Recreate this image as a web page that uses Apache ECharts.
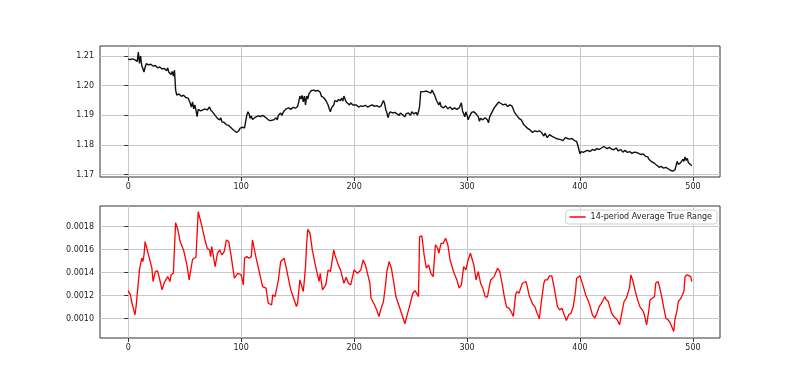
<!DOCTYPE html>
<html><head><meta charset="utf-8">
<script src="https://cdn.jsdelivr.net/npm/echarts@6/dist/echarts.min.js"></script>
<style>html,body{margin:0;padding:0;background:#fff}#c{width:800px;height:380px}</style>
</head><body><div id="c"></div>
<script>
const priceIdx = [0,2,4,6,7,8,9,10,11,12,13,14,15,16,18,20,22,24,26,28,30,32,34,35,36,38,39,40,41,42,43,45,47,49,51,53,54,55,56,57,58,59,60,61,62,64,66,68,70,72,73,75,77,78,79,81,82,83,85,86,87,89,90,92,93,94,96,97,98,99,101,103,104,105,106,107,108,109,110,112,113,115,117,119,121,122,124,126,127,129,130,131,132,133,134,135,136,138,140,142,144,146,148,150,151,152,153,154,155,156,157,158,159,160,162,164,166,168,170,171,173,175,176,177,178,179,180,181,182,183,185,186,188,189,190,191,192,193,194,196,197,199,200,202,204,206,208,210,212,214,216,218,220,222,224,226,227,228,229,230,231,232,234,236,238,240,241,243,245,246,248,250,251,253,255,256,257,258,259,260,262,264,266,268,269,270,271,272,273,274,275,276,277,279,281,283,285,287,289,291,293,295,296,297,298,299,300,301,302,304,306,308,310,311,312,314,316,318,319,320,322,324,326,328,330,332,334,336,338,340,341,342,344,346,348,350,352,354,356,358,360,362,364,366,368,369,371,373,375,377,379,381,383,385,387,389,391,393,395,397,398,399,400,401,403,405,407,409,411,413,415,417,419,421,422,424,426,428,430,432,434,436,438,440,442,444,446,448,450,452,454,456,458,460,461,462,463,464,466,468,470,472,474,476,478,480,482,484,485,486,487,489,490,491,492,493,494,495,496,497,499];
const priceVal = [1.2089,1.2088,1.2090,1.2087,1.2092,1.2082,1.2113,1.2075,1.2100,1.2068,1.2058,1.2046,1.2062,1.2074,1.2070,1.2072,1.2066,1.2068,1.2060,1.2063,1.2056,1.2058,1.2050,1.2060,1.2045,1.2038,1.2048,1.2032,1.2052,1.1985,1.1968,1.1972,1.1964,1.1968,1.1960,1.1958,1.1950,1.1940,1.1928,1.1945,1.1922,1.1935,1.1918,1.1896,1.1920,1.1915,1.1918,1.1922,1.1918,1.1928,1.1918,1.1910,1.1900,1.1905,1.1890,1.1885,1.1892,1.1878,1.1876,1.1880,1.1868,1.1866,1.1860,1.1855,1.1860,1.1848,1.1842,1.1838,1.1848,1.1856,1.1860,1.1858,1.1880,1.1900,1.1912,1.1905,1.1890,1.1898,1.1886,1.1892,1.1888,1.1898,1.1896,1.1900,1.1895,1.1890,1.1885,1.1882,1.1878,1.1885,1.1880,1.1892,1.1885,1.1900,1.1895,1.1908,1.1900,1.1915,1.1922,1.1925,1.1920,1.1927,1.1924,1.1930,1.1945,1.1965,1.1955,1.1967,1.1945,1.1965,1.1935,1.1965,1.1955,1.1972,1.1983,1.1985,1.1982,1.1984,1.1978,1.1965,1.1960,1.1950,1.1955,1.1935,1.1922,1.1912,1.1925,1.1920,1.1935,1.1950,1.1946,1.1953,1.1950,1.1958,1.1948,1.1965,1.1955,1.1945,1.1940,1.1935,1.1942,1.1935,1.1930,1.1935,1.1928,1.1932,1.1930,1.1934,1.1928,1.1932,1.1935,1.1930,1.1933,1.1928,1.1932,1.1950,1.1940,1.1920,1.1910,1.1892,1.1905,1.1912,1.1908,1.1910,1.1905,1.1900,1.1908,1.1902,1.1895,1.1905,1.1908,1.1900,1.1912,1.1905,1.1910,1.1900,1.1912,1.1930,1.1980,1.1985,1.1980,1.1982,1.1978,1.1975,1.1985,1.1990,1.1970,1.1960,1.1950,1.1945,1.1935,1.1945,1.1930,1.1925,1.1932,1.1922,1.1928,1.1920,1.1925,1.1920,1.1925,1.1942,1.1915,1.1905,1.1895,1.1912,1.1900,1.1885,1.1895,1.1910,1.1912,1.1905,1.1895,1.1880,1.1890,1.1885,1.1892,1.1885,1.1875,1.1895,1.1910,1.1925,1.1935,1.1945,1.1940,1.1935,1.1938,1.1930,1.1935,1.1930,1.1925,1.1910,1.1900,1.1890,1.1885,1.1870,1.1862,1.1855,1.1850,1.1842,1.1848,1.1845,1.1848,1.1842,1.1830,1.1840,1.1825,1.1835,1.1830,1.1826,1.1822,1.1820,1.1818,1.1815,1.1825,1.1822,1.1820,1.1822,1.1815,1.1812,1.1800,1.1785,1.1770,1.1778,1.1775,1.1780,1.1782,1.1778,1.1785,1.1782,1.1788,1.1785,1.1790,1.1795,1.1790,1.1788,1.1792,1.1786,1.1784,1.1790,1.1780,1.1785,1.1776,1.1782,1.1775,1.1778,1.1772,1.1776,1.1775,1.1772,1.1768,1.1770,1.1762,1.1760,1.1752,1.1758,1.1745,1.1750,1.1738,1.1732,1.1725,1.1728,1.1722,1.1725,1.1720,1.1715,1.1712,1.1716,1.1730,1.1745,1.1735,1.1740,1.1738,1.1752,1.1745,1.1760,1.1748,1.1755,1.1740,1.1735,1.1730];

const atrIdx = [0,2,3,6,7,10,12,13,14,15,18,21,22,24,26,28,30,32,35,37,38,40,42,44,46,49,52,54,55,57,60,61,62,65,68,70,72,73,74,77,79,81,83,85,87,89,91,94,97,100,102,103,105,107,109,110,113,116,119,122,124,125,127,128,130,131,133,135,136,138,140,143,144,146,149,150,152,153,155,156,157,158,159,161,163,166,169,170,172,175,177,179,180,182,183,186,188,191,193,195,197,200,203,206,208,210,214,215,218,220,222,224,226,228,229,231,233,235,237,240,242,245,247,249,252,254,255,257,258,260,262,264,266,268,270,272,274,275,277,279,281,283,285,288,291,293,295,297,299,301,303,306,308,310,312,314,316,318,320,321,324,327,329,331,333,335,337,339,341,343,344,346,347,349,352,353,355,358,360,362,364,366,368,369,371,373,375,377,380,382,384,386,388,390,392,394,396,397,400,401,403,405,407,409,411,413,415,417,419,420,422,423,425,428,430,431,433,435,437,439,441,442,444,445,447,449,451,453,456,457,459,461,462,464,466,467,469,470,472,474,476,478,480,481,483,484,486,487,489,490,492,493,495,496,498,499];
const atrVal = [0.001243,0.001206,0.001150,0.001032,0.001104,0.001423,0.001525,0.001496,0.001554,0.001670,0.001554,0.001438,0.001322,0.001409,0.001414,0.001336,0.001249,0.001313,0.001365,0.001322,0.001380,0.001394,0.001835,0.001771,0.001670,0.001597,0.001467,0.001336,0.001322,0.001516,0.001533,0.001539,0.001930,0.001815,0.001684,0.001612,0.001597,0.001539,0.001626,0.001452,0.001568,0.001597,0.001554,0.001583,0.001684,0.001670,0.001554,0.001351,0.001394,0.001380,0.001293,0.001525,0.001539,0.001525,0.001539,0.001684,0.001539,0.001409,0.001278,0.001264,0.001133,0.001119,0.001119,0.001206,0.001191,0.001191,0.001336,0.001496,0.001496,0.001525,0.001438,0.001293,0.001249,0.001191,0.001104,0.001133,0.001336,0.001322,0.001235,0.001336,0.001450,0.001650,0.001777,0.001742,0.001597,0.001452,0.001322,0.001394,0.001249,0.001293,0.001423,0.001409,0.001467,0.001597,0.001554,0.001467,0.001423,0.001307,0.001359,0.001307,0.001293,0.001423,0.001394,0.001423,0.001510,0.001467,0.001307,0.001177,0.001119,0.001075,0.001017,0.001090,0.001148,0.001307,0.001409,0.001496,0.001438,0.001322,0.001191,0.001104,0.001046,0.000954,0.001032,0.001104,0.001220,0.001243,0.001235,0.001191,0.001713,0.001719,0.001554,0.001438,0.001467,0.001394,0.001365,0.001641,0.001612,0.001568,0.001655,0.001655,0.001699,0.001641,0.001510,0.001409,0.001336,0.001264,0.001293,0.001452,0.001423,0.001510,0.001568,0.001467,0.001336,0.001409,0.001307,0.001264,0.001191,0.001185,0.001293,0.001336,0.001365,0.001438,0.001409,0.001307,0.001191,0.001099,0.001090,0.001061,0.001017,0.001206,0.001235,0.001220,0.001249,0.001307,0.001322,0.001293,0.001200,0.001128,0.001104,0.001046,0.000997,0.001162,0.001307,0.001336,0.001336,0.001371,0.001371,0.001278,0.001104,0.001075,0.001090,0.001032,0.000983,0.001032,0.001046,0.001104,0.001235,0.001351,0.001371,0.001365,0.001278,0.001206,0.001162,0.001104,0.001032,0.001003,0.001046,0.001104,0.001133,0.001148,0.001191,0.001168,0.001148,0.001046,0.001017,0.001003,0.000988,0.000945,0.001046,0.001148,0.001177,0.001206,0.001278,0.001380,0.001322,0.001235,0.001162,0.001104,0.001061,0.001032,0.000945,0.001075,0.001162,0.001177,0.001191,0.001307,0.001322,0.001293,0.001206,0.001104,0.001003,0.000988,0.000959,0.000945,0.000887,0.000988,0.001075,0.001148,0.001171,0.001191,0.001235,0.001365,0.001380,0.001394,0.001365,0.001322];

const xTickVals = [0,100,200,300,400,500];
const priceTickVals = [1.17,1.18,1.19,1.20,1.21];
const atrTickVals = [0.0010,0.0012,0.0014,0.0016,0.0018];
const atrLabel = '14-period Average True Range';

const FONT = 'DejaVu Sans';
const gridLineStyle = {color:'#c8c8c8', width:1};
function xAxis(gi){
  return {type:'value', gridIndex:gi, min:-24.95, max:523.95,
    axisLine:{show:false},
    axisTick:{show:true, length:4, inside:false, customValues:xTickVals, lineStyle:{color:'#333'}},
    axisLabel:{customValues:xTickVals, color:'#222', fontFamily:FONT, fontSize:8, margin:6},
    splitLine:{show:true, lineStyle:gridLineStyle}};
}
function yAxis(gi, min, max, ticks, dec){
  return {type:'value', gridIndex:gi, min:min, max:max,
    axisLine:{show:false},
    axisTick:{show:true, length:4, customValues:ticks, lineStyle:{color:'#333'}},
    axisLabel:{customValues:ticks, color:'#222', fontFamily:FONT, fontSize:8, margin:6,
      formatter:v=>v.toFixed(dec)},
    splitLine:{show:true, lineStyle:gridLineStyle}};
}
const chart = echarts.init(document.getElementById('c'), null, {renderer:'canvas'});
chart.setOption({
  animation:false,
  backgroundColor:'#ffffff',
  textStyle:{fontFamily:FONT},
  grid:[
    {left:100, right:80, top:46, height:131, show:true, borderColor:'#333', borderWidth:1, backgroundColor:'transparent'},
    {left:100, right:80, top:206, height:132, show:true, borderColor:'#333', borderWidth:1, backgroundColor:'transparent'}
  ],
  xAxis:[xAxis(0), xAxis(1)],
  yAxis:[yAxis(0, 1.16923, 1.21336, priceTickVals, 2), yAxis(1, 0.00083, 0.00198, atrTickVals, 4)],
  legend:{show:true, data:[{name:atrLabel, icon:'rect'}], right:83, top:210, itemWidth:16, itemHeight:1.5,
    itemGap:6, padding:[3,5,3,4], borderColor:'#d0d0d0', borderWidth:1, borderRadius:3,
    backgroundColor:'rgba(255,255,255,0.8)', textStyle:{fontFamily:FONT, fontSize:8, color:'#222'}},
  series:[
    {type:'line', name:'price', xAxisIndex:0, yAxisIndex:0, showSymbol:false, symbol:'none',
      lineStyle:{color:'#111', width:1.4}, itemStyle:{color:'#111'},
      data:priceIdx.map((x,i)=>[x, priceVal[i]])},
    {type:'line', name:atrLabel, xAxisIndex:1, yAxisIndex:1, showSymbol:false, symbol:'none',
      lineStyle:{color:'#ff0000', width:1.3}, itemStyle:{color:'#ff0000'},
      data:atrIdx.map((x,i)=>[x, atrVal[i]])}
  ]
});
</script></body></html>
